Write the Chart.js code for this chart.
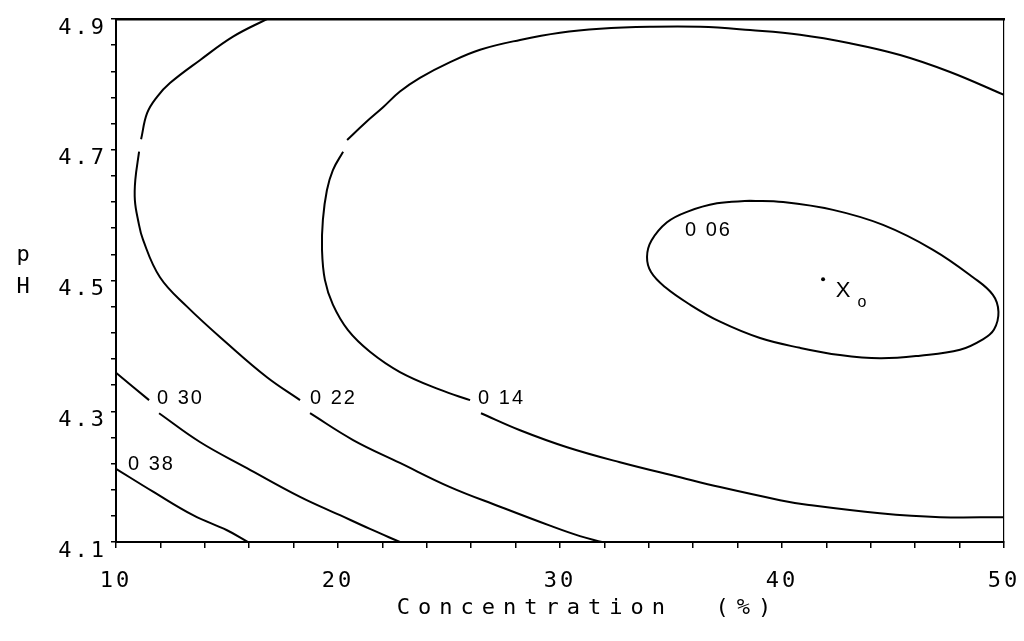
<!DOCTYPE html>
<html>
<head>
<meta charset="utf-8">
<script src="https://cdn.jsdelivr.net/npm/chart.js@4.4.1/dist/chart.umd.min.js"></script>
<style>
  html, body { margin: 0; padding: 0; background: #fff; }
  canvas { display: block; }
</style>
</head>
<body>
<canvas id="c" width="1024" height="641"></canvas>
<script>
// Axis tick labels and titles
const xTickLabels = ['10', '20', '30', '40', '50'];
const yTickLabels = ['4.1', '4.3', '4.5', '4.7', '4.9'];
const xTitle = 'Concentration  (%)';
const yTitle = ['p', 'H'];

// Contour levels and where each level's label sits (concentration %, pH)
const contourLevels = [0.38, 0.30, 0.22, 0.14, 0.06];
const labelAnchors = [[10.54, 4.218], [11.85, 4.319], [18.74, 4.319], [26.31, 4.319], [35.63, 4.577]];

// Contour 0.38
const c38 = [[10, 4.212], [11.67, 4.177], [13.47, 4.141], [15.0, 4.118], [15.95, 4.1]];

// Contour 0.30, broken where its label sits
const c30a = [[10, 4.359], [11.49, 4.317]];
const c30b = [[11.94, 4.297], [13.78, 4.253], [15.90, 4.213], [18.29, 4.169], [20.09, 4.141], [21.44, 4.120], [22.79, 4.1]];

// Contour 0.22
const c22a = [[16.80, 4.9], [15.27, 4.873], [13.78, 4.837], [12.43, 4.802], [11.85, 4.781], [11.40, 4.756], [11.13, 4.716]];
const c22b = [[11.04, 4.697], [10.87, 4.654], [10.85, 4.623], [10.99, 4.593], [11.22, 4.562], [11.98, 4.505], [13.20, 4.460], [15.0, 4.404], [16.80, 4.352], [18.29, 4.317]];
const c22c = [[18.74, 4.297], [20.68, 4.256], [22.79, 4.221], [25.05, 4.184], [27.30, 4.154], [29.55, 4.125], [30.90, 4.109], [31.89, 4.1]];

// Contour 0.14
const c14a = [[50, 4.784], [47.57, 4.819], [45.32, 4.845], [43.06, 4.863], [40.81, 4.876], [38.56, 4.883], [36.31, 4.888], [34.05, 4.888], [31.80, 4.885], [30.0, 4.879], [28.20, 4.868], [26.40, 4.853], [25.05, 4.834], [23.69, 4.810], [22.79, 4.789], [22.03, 4.765], [21.22, 4.741], [20.41, 4.715]];
const c14b = [[20.23, 4.697], [19.77, 4.669], [19.50, 4.638], [19.32, 4.593], [19.28, 4.547], [19.41, 4.501], [19.77, 4.463], [20.45, 4.424], [21.44, 4.391], [22.79, 4.360], [24.59, 4.333], [25.95, 4.317]];
const c14c = [[26.44, 4.297], [28.20, 4.271], [30.32, 4.245], [32.70, 4.222], [35.41, 4.199], [37.21, 4.184], [39.91, 4.164], [41.13, 4.157], [44.41, 4.144], [47.12, 4.138], [50, 4.138]];

// Contour 0.06 (closed loop around the optimum, starting at its top)
const c06 = [[38.56, 4.622], [40.05, 4.620], [42.30, 4.608], [44.55, 4.585], [46.80, 4.547], [48.60, 4.505], [49.50, 4.478], [49.75, 4.452], [49.55, 4.425], [49.05, 4.410], [48.02, 4.394], [46.22, 4.385], [44.41, 4.381], [42.61, 4.386], [40.81, 4.397], [39.01, 4.412], [37.21, 4.437], [35.86, 4.463], [34.73, 4.490], [34.10, 4.513], [33.92, 4.536], [34.12, 4.561], [34.82, 4.589], [35.72, 4.605], [37.07, 4.618], [38.56, 4.622]];

// Optimum (concentration %, pH)
const optimum = [41.85, 4.502];

const pieces = [c38, c30a, c30b, c22a, c22b, c22c, c14a, c14b, c14c, c06];

const toXY = arr => arr.map(([x, y]) => ({ x, y }));

const datasets = pieces.map(p => ({
  data: toXY(p),
  showLine: true,
  pointRadius: 0,
  borderColor: '#000',
  borderWidth: 2,
  tension: 0.4,
  fill: false
}));
datasets.push({
  data: toXY([optimum]),
  showLine: false,
  pointRadius: 2,
  pointBackgroundColor: '#000',
  pointBorderWidth: 0
});

// Tick positions: every 2 % on x, every 0.04 on pH
const xTickValues = Array.from({ length: 21 }, (_, i) => 10 + i * 2);
const yTickValues = Array.from({ length: 21 }, (_, i) => +(4.1 + i * 0.04).toFixed(2));

const monoFont = { family: '"DejaVu Sans Mono", monospace', size: 22 };

const textLayer = {
  id: 'textLayer',
  beforeDraw(chart) {
    chart.ctx.letterSpacing = '3px';
  },
  afterDraw(chart) {
    const { ctx, scales: { x, y } } = chart;
    ctx.save();
    ctx.fillStyle = '#000';

    // contour level labels
    ctx.font = '20px "Liberation Sans", Arial, sans-serif';
    ctx.letterSpacing = '2px';
    ctx.textAlign = 'left';
    ctx.textBaseline = 'middle';
    contourLevels.forEach((lv, i) => {
      const [cx, cy] = labelAnchors[i];
      ctx.fillText(lv.toFixed(2).replace('.', ' '), x.getPixelForValue(cx), y.getPixelForValue(cy));
    });

    // optimum marker label X0
    const px = x.getPixelForValue(optimum[0]);
    const py = y.getPixelForValue(optimum[1]);
    ctx.letterSpacing = '0px';
    ctx.textAlign = 'center';
    ctx.font = '22px "Liberation Sans", Arial, sans-serif';
    ctx.fillText('X', px + 20, py + 12);
    ctx.font = '16px "Liberation Sans", Arial, sans-serif';
    ctx.fillText('o', px + 39, py + 23);

    // axis titles
    ctx.textBaseline = 'alphabetic';
    ctx.font = '22px "DejaVu Sans Mono", monospace';
    ctx.letterSpacing = '8px';
    ctx.fillText(xTitle, (x.left + x.right) / 2 + 28, 614);

    ctx.font = '22px "DejaVu Sans Mono", monospace';
    ctx.letterSpacing = '0px';
    ctx.fillText(yTitle[0], 23, 261);
    ctx.fillText(yTitle[1], 23, 293);
    ctx.restore();
  }
};

new Chart(document.getElementById('c'), {
  type: 'scatter',
  data: { datasets },
  plugins: [textLayer],
  options: {
    responsive: false,
    animation: false,
    devicePixelRatio: 1,
    layout: { padding: { left: 0, right: 20, top: 19, bottom: 0 } },
    plugins: { legend: { display: false }, tooltip: { enabled: false } },
    scales: {
      x: {
        type: 'linear', position: 'bottom', min: 10, max: 50,
        afterBuildTicks: s => { s.ticks = xTickValues.map(v => ({ value: v })); },
        afterFit: s => { s.height = 99; s.paddingLeft = 0; s.paddingRight = 0; },
        ticks: {
          autoSkip: false, maxRotation: 0, minRotation: 0, padding: 20,
          color: '#000', font: monoFont,
          callback: (v, i) => (i % 5 === 0 ? xTickLabels[i / 5] : '')
        },
        grid: { drawOnChartArea: false, drawTicks: true, tickLength: 6, color: '#000', lineWidth: 1.5 },
        border: { display: true, color: '#000', width: 2 }
      },
      y: {
        type: 'linear', position: 'left', min: 4.1, max: 4.9,
        afterBuildTicks: s => { s.ticks = yTickValues.map(v => ({ value: v })); },
        afterFit: s => { s.width = 116; s.paddingTop = 0; s.paddingBottom = 0; },
        ticks: {
          autoSkip: false, padding: 4, labelOffset: 9,
          color: '#000', font: monoFont,
          callback: (v, i) => (i % 5 === 0 ? yTickLabels[i / 5] : '')
        },
        grid: { drawOnChartArea: false, drawTicks: true, tickLength: 5, color: '#000', lineWidth: 1.5 },
        border: { display: true, color: '#000', width: 2 }
      },
      xTop: {
        type: 'linear', axis: 'x', position: 'top', min: 10, max: 50,
        afterFit: s => { s.height = 0; s.paddingLeft = 0; s.paddingRight = 0; },
        ticks: { display: false },
        grid: { display: false, drawTicks: false },
        border: { display: true, color: '#000', width: 2.5 }
      },
      yRight: {
        type: 'linear', axis: 'y', position: 'right', min: 4.1, max: 4.9,
        afterFit: s => { s.width = 0; s.paddingTop = 0; s.paddingBottom = 0; },
        ticks: { display: false },
        grid: { display: false, drawTicks: false },
        border: { display: true, color: '#000', width: 1.2 }
      }
    }
  }
});
</script>
</body>
</html>
